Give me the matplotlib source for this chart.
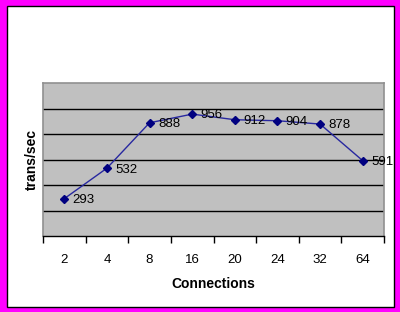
import matplotlib
matplotlib.use("Agg")
import matplotlib.pyplot as plt
from matplotlib.patches import Rectangle

connections = ["2", "4", "8", "16", "20", "24", "32", "64"]
trans_per_sec = [293, 532, 888, 956, 912, 904, 878, 591]

plt.rcParams['font.family'] = ['Liberation Sans', 'DejaVu Sans']

W, H = 400, 312
fig = plt.figure(figsize=(W / 100, H / 100), dpi=100)
fig.patch.set_facecolor('white')

# magenta frame + thin black line
fig.patches.append(Rectangle((0, 0), 1, 1, transform=fig.transFigure,
                             facecolor='#FF00FF', edgecolor='none', zorder=-10))
fig.patches.append(Rectangle((6.5 / W, 5.5 / H), (394 - 6.5) / W, (306.5 - 5.5) / H,
                             transform=fig.transFigure, facecolor='white',
                             edgecolor='black', linewidth=1.0, zorder=-9))

ax = fig.add_axes([43 / W, (312 - 236) / H, (384 - 43) / W, (236 - 83) / H])
ax.set_facecolor('#C0C0C0')
x = list(range(len(connections)))
ax.plot(x, trans_per_sec, color='#2828A0', linewidth=1.0, zorder=3)
ax.plot(x, trans_per_sec, linestyle='none', marker='D', markersize=4.5,
        color='#000080', zorder=4)
for xi, v in zip(x, trans_per_sec):
    ax.annotate(str(v), (xi, v), xytext=(6, -1), textcoords='offset points',
                ha='left', va='center', fontsize=9.5, color='black', zorder=5)

ax.set_xlim(-0.5, len(connections) - 0.5)
ax.set_ylim(0, 1200)
ax.set_yticks([200, 400, 600, 800, 1000])
ax.yaxis.grid(True, color='black', linewidth=1.0)
ax.set_axisbelow(True)
ax.tick_params(axis='y', left=False, labelleft=False)
ax.set_xticks([i + 0.5 for i in range(-1, len(connections))], minor=False)
ax.set_xticklabels([])
ax.set_xticks(x, minor=True)
ax.set_xticklabels(connections, minor=True, fontsize=9.5)
ax.tick_params(axis='x', which='major', length=5, width=1, color='black', direction='out')
ax.tick_params(axis='x', which='minor', length=0, pad=13)

for s in ['top', 'right', 'left']:
    ax.spines[s].set_color('#909090')
    ax.spines[s].set_linewidth(1.2)
ax.spines['bottom'].set_color('black')
ax.spines['bottom'].set_linewidth(1.0)

ax.set_xlabel('Connections', fontsize=10, fontweight='bold', labelpad=8)
ax.set_ylabel('trans/sec', fontsize=10, fontweight='bold', labelpad=3)

fig.savefig('out.png', dpi=100)
